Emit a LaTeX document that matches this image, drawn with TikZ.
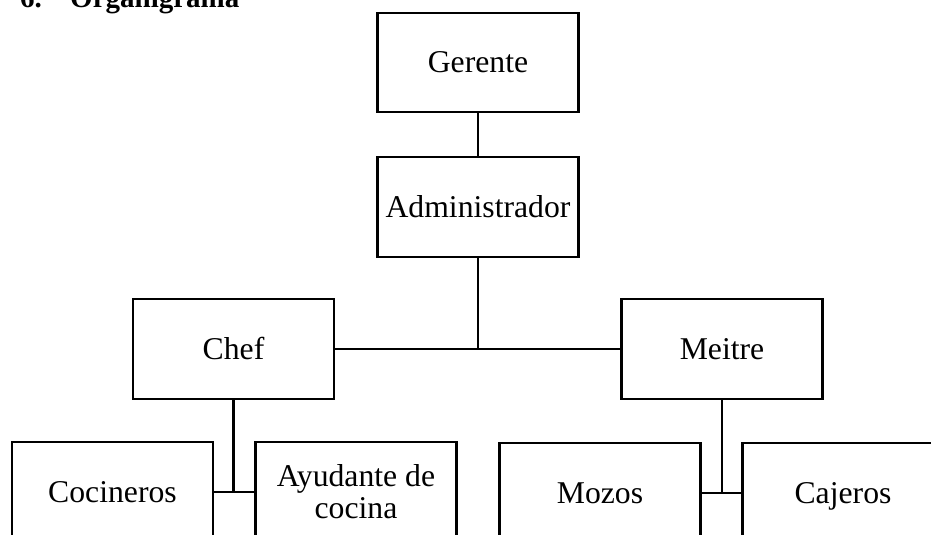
\documentclass[tikz,border=0pt]{standalone}
\usepackage{fontspec}
\setmainfont{Liberation Serif}
\begin{document}
\begin{tikzpicture}[x=1pt,y=-1pt,
  box/.style={draw, line width=2.4pt, inner sep=0pt, minimum width=201pt, minimum height=100pt, align=center, font=\fontsize{31.7}{32}\selectfont},
  single/.style={box, text height=21pt, text depth=0pt},
  link/.style={line width=2.3pt},
  ttl/.style={anchor=base west, inner sep=0pt, font=\fontsize{29}{32}\selectfont\bfseries}]
\useasboundingbox (0,0) rectangle (931,535);
\clip (0,0) rectangle (931,535);
\node[ttl] (num) at (20,8) {6.};
\node[ttl] (ttl) at (70,8) {Organigrama};
\node[single, minimum height=99pt] (ger) at (478,62.5) {Gerente};
\node[single] (adm) at (478,207) {Administrador};
\node[single] (chef) at (233.5,349) {Chef};
\node[single] (mei) at (722,349) {Meitre};
\node[single] (coc) at (112.5,492) {Cocineros};
\node[box] (ayu) at (356,492) {Ayudante de\\cocina};
\node[single] (moz) at (600,493) {Mozos};
\node[single] (caj) at (843,493) {Cajeros};
\coordinate (j1) at (adm.south |- chef.east);
\coordinate (j2) at (chef.south |- coc.east);
\coordinate (j3) at (mei.south |- moz.east);
\draw[link] (ger) -- (adm);
\draw[link] (adm.south) -- (j1);
\draw[link] (chef.east) -- (mei.west);
\draw[link] (chef.south) -- (j2);
\draw[link] (coc.east) -- (ayu.west);
\draw[link] (mei.south) -- (j3);
\draw[link] (moz.east) -- (caj.west);
\end{tikzpicture}
\end{document}
